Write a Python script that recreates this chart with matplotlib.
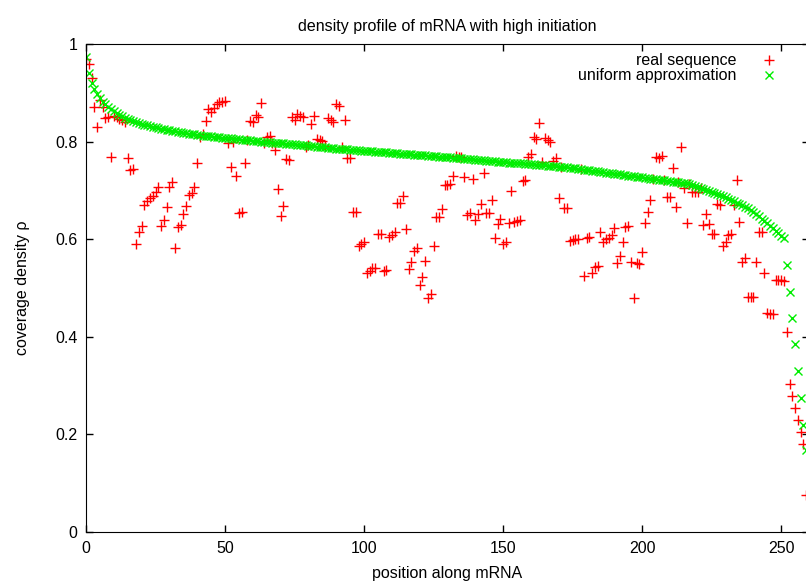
import matplotlib
matplotlib.use('Agg')
import matplotlib.pyplot as plt

plt.rcParams['font.family'] = ['Liberation Sans', 'DejaVu Sans']

# real sequence, one value per codon position 0..259
real_density = [
    0.970, 0.958, 0.930, 0.871, 0.829, 0.885, 0.870, 0.849, 0.850, 0.768,
    0.852, 0.850, 0.846, 0.844, 0.840, 0.766, 0.742, 0.743, 0.590, 0.615,
    0.627, 0.670, 0.678, 0.684, 0.689, 0.696, 0.707, 0.627, 0.639, 0.666,
    0.707, 0.718, 0.581, 0.625, 0.629, 0.651, 0.668, 0.690, 0.694, 0.707,
    0.755, 0.810, 0.815, 0.843, 0.866, 0.861, 0.869, 0.878, 0.881, 0.882,
    0.883, 0.798, 0.748, 0.800, 0.729, 0.653, 0.656, 0.757, 0.803, 0.843,
    0.840, 0.854, 0.850, 0.880, 0.796, 0.810, 0.812, 0.798, 0.783, 0.702,
    0.647, 0.668, 0.764, 0.762, 0.850, 0.844, 0.856, 0.852, 0.850, 0.788,
    0.792, 0.836, 0.852, 0.805, 0.803, 0.802, 0.790, 0.848, 0.844, 0.840,
    0.878, 0.873, 0.788, 0.844, 0.767, 0.767, 0.655, 0.655, 0.586, 0.589,
    0.593, 0.531, 0.535, 0.541, 0.541, 0.610, 0.610, 0.535, 0.537, 0.605,
    0.608, 0.614, 0.673, 0.675, 0.688, 0.620, 0.539, 0.552, 0.576, 0.581,
    0.506, 0.522, 0.555, 0.479, 0.487, 0.586, 0.645, 0.646, 0.661, 0.711,
    0.711, 0.713, 0.729, 0.770, 0.769, 0.768, 0.727, 0.649, 0.653, 0.723,
    0.639, 0.651, 0.672, 0.735, 0.653, 0.653, 0.680, 0.602, 0.631, 0.641,
    0.590, 0.595, 0.632, 0.699, 0.636, 0.638, 0.639, 0.720, 0.721, 0.768,
    0.774, 0.810, 0.805, 0.837, 0.759, 0.807, 0.803, 0.800, 0.761, 0.766,
    0.684, 0.748, 0.664, 0.664, 0.596, 0.598, 0.600, 0.600, 0.743, 0.524,
    0.603, 0.604, 0.530, 0.543, 0.545, 0.615, 0.593, 0.600, 0.603, 0.608,
    0.622, 0.550, 0.565, 0.595, 0.624, 0.627, 0.554, 0.479, 0.550, 0.549,
    0.573, 0.634, 0.655, 0.680, 0.724, 0.769, 0.767, 0.770, 0.721, 0.687,
    0.686, 0.745, 0.666, 0.717, 0.788, 0.704, 0.634, 0.713, 0.697, 0.697,
    0.697, 0.705, 0.629, 0.651, 0.631, 0.610, 0.610, 0.671, 0.670, 0.586,
    0.595, 0.608, 0.610, 0.670, 0.721, 0.636, 0.554, 0.561, 0.481, 0.481,
    0.481, 0.554, 0.614, 0.614, 0.530, 0.448, 0.446, 0.446, 0.517, 0.516,
    0.516, 0.515, 0.409, 0.302, 0.278, 0.253, 0.229, 0.205, 0.180, 0.075,
]

# uniform approximation, same positions
uniform_density = [
    0.973, 0.940, 0.920, 0.907, 0.897, 0.889, 0.882, 0.876, 0.870, 0.866,
    0.862, 0.858, 0.855, 0.852, 0.849, 0.846, 0.844, 0.842, 0.840, 0.838,
    0.836, 0.834, 0.833, 0.831, 0.830, 0.829, 0.827, 0.826, 0.825, 0.824,
    0.823, 0.822, 0.821, 0.820, 0.819, 0.818, 0.817, 0.816, 0.815, 0.815,
    0.814, 0.813, 0.812, 0.812, 0.811, 0.811, 0.810, 0.810, 0.809, 0.808,
    0.808, 0.807, 0.807, 0.806, 0.806, 0.805, 0.804, 0.804, 0.803, 0.803,
    0.802, 0.802, 0.801, 0.800, 0.800, 0.799, 0.799, 0.798, 0.798, 0.797,
    0.797, 0.796, 0.795, 0.795, 0.794, 0.794, 0.793, 0.793, 0.792, 0.792,
    0.791, 0.790, 0.790, 0.789, 0.789, 0.788, 0.788, 0.787, 0.786, 0.786,
    0.785, 0.785, 0.784, 0.784, 0.784, 0.783, 0.783, 0.782, 0.782, 0.781,
    0.781, 0.781, 0.780, 0.780, 0.779, 0.779, 0.778, 0.778, 0.778, 0.777,
    0.777, 0.776, 0.776, 0.775, 0.775, 0.775, 0.774, 0.774, 0.773, 0.773,
    0.772, 0.772, 0.772, 0.771, 0.771, 0.770, 0.770, 0.769, 0.769, 0.769,
    0.768, 0.768, 0.767, 0.767, 0.766, 0.766, 0.765, 0.765, 0.764, 0.764,
    0.763, 0.763, 0.762, 0.762, 0.761, 0.761, 0.760, 0.760, 0.759, 0.759,
    0.758, 0.758, 0.757, 0.757, 0.756, 0.756, 0.755, 0.755, 0.754, 0.754,
    0.753, 0.753, 0.752, 0.752, 0.751, 0.751, 0.750, 0.750, 0.749, 0.749,
    0.748, 0.748, 0.747, 0.747, 0.746, 0.745, 0.745, 0.744, 0.743, 0.742,
    0.742, 0.741, 0.740, 0.739, 0.739, 0.738, 0.737, 0.736, 0.736, 0.735,
    0.734, 0.733, 0.733, 0.732, 0.731, 0.730, 0.730, 0.729, 0.728, 0.727,
    0.727, 0.726, 0.725, 0.724, 0.724, 0.723, 0.722, 0.721, 0.721, 0.720,
    0.719, 0.718, 0.718, 0.717, 0.716, 0.715, 0.714, 0.713, 0.711, 0.709,
    0.707, 0.705, 0.703, 0.701, 0.699, 0.697, 0.695, 0.693, 0.691, 0.688,
    0.686, 0.683, 0.681, 0.678, 0.675, 0.672, 0.669, 0.666, 0.663, 0.660,
    0.656, 0.652, 0.647, 0.642, 0.637, 0.632, 0.627, 0.622, 0.617, 0.612,
    0.607, 0.602, 0.547, 0.492, 0.438, 0.384, 0.330, 0.275, 0.219, 0.168,
]

positions = list(range(len(real_density)))

x_ticks = [0, 50, 100, 150, 200, 250]
y_ticks = [0, 0.2, 0.4, 0.6, 0.8, 1]
y_tick_labels = ['0', '0.2', '0.4', '0.6', '0.8', '1']


def main():
    fs = 11.5
    fig = plt.figure(figsize=(8.06, 5.82), dpi=100)
    ax = fig.add_axes([0.1067, 0.0864, 0.897, 0.838])

    ax.plot(positions, real_density, linestyle='none', marker='+',
            color='#ff0000', markersize=7, markeredgewidth=1.0,
            label='real sequence')
    ax.plot(positions, uniform_density, linestyle='none', marker='x',
            color='#00ee00', markersize=5.5, markeredgewidth=1.0,
            label='uniform approximation')

    ax.set_xlim(0, 260)
    ax.set_ylim(0, 1)
    ax.set_xticks(x_ticks)
    ax.set_yticks(y_ticks)
    ax.set_yticklabels(y_tick_labels)
    ax.tick_params(direction='in', length=5, width=1, top=True, right=True,
                   labelsize=fs)
    ax.tick_params(axis='x', pad=7)
    ax.tick_params(axis='y', pad=6)

    ax.set_title('density profile of mRNA with high initiation',
                 fontsize=fs, pad=9)
    ax.set_xlabel('position along mRNA', fontsize=fs, labelpad=7)
    ax.set_ylabel('coverage density \u03c1', fontsize=fs, labelpad=18)

    ax.legend(loc='upper right', frameon=False, markerfirst=False,
              fontsize=fs, handlelength=1.0, handletextpad=1.55,
              borderaxespad=0.3, labelspacing=0.0,
              bbox_to_anchor=(0.971, 1.004))

    fig.savefig('out.png', dpi=100)


if __name__ == "__main__":
    main()
